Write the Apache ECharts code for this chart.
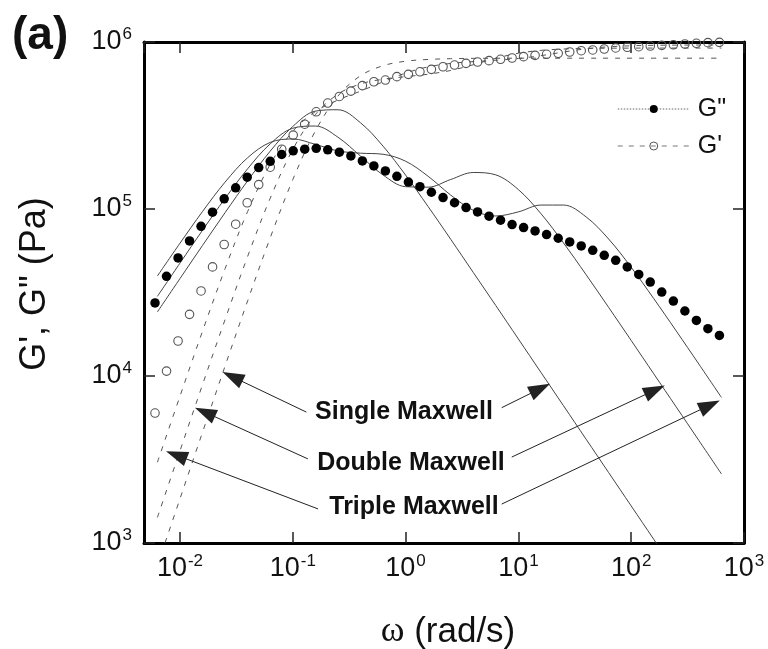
<!DOCTYPE html>
<html>
<head>
<meta charset="utf-8">
<script src="https://cdn.jsdelivr.net/npm/echarts@6/dist/echarts.min.js"></script>
<style>
  html, body { margin: 0; padding: 0; background: #fff; }
  #chart { width: 768px; height: 649px; }
</style>
</head>
<body>
<div id="chart"></div>
<script>
// Angular frequency of the measured points (rad/s)
const omega = [0.00601, 0.0076, 0.00962, 0.01216, 0.01538, 0.01945, 0.02466, 0.03119, 0.03945, 0.04989,
  0.0631, 0.0798, 0.1009, 0.1276, 0.1614, 0.2042, 0.2588, 0.3273, 0.414, 0.5236,
  0.6622, 0.8375, 1.059, 1.34, 1.694, 2.148, 2.716, 3.436, 4.345, 5.495,
  6.95, 8.79, 11.12, 14.06, 17.78, 22.54, 28.51, 36.06, 45.6, 57.7,
  72.9, 92.3, 116.7, 147.6, 186.6, 236.6, 299.2, 378.4, 478.6, 605.3];

// Measured loss modulus G'' (Pa)
const lossModulus = [27400, 39500, 50900, 64400, 78800, 95700, 115000, 134000, 155000, 177000,
  193000, 212000, 223000, 228000, 231000, 226000, 219000, 208000, 194000, 181000,
  169000, 157000, 145000, 136000, 126000, 117000, 109000, 102000, 96000, 90600,
  85700, 80700, 77400, 73900, 70300, 66800, 63500, 60100, 56600, 52800,
  49300, 45000, 40600, 36500, 31800, 28100, 24500, 21500, 19200, 17500];

// Measured storage modulus G' (Pa)
const storageModulus = [6000, 10700, 16200, 23400, 32300, 45000, 61300, 81100, 109000, 140000,
  178000, 228000, 277000, 322000, 382000, 431000, 472000, 508000, 548000, 578000,
  592000, 620000, 640000, 663000, 686000, 711000, 728000, 745000, 759000, 773000,
  788000, 802000, 817000, 832000, 844000, 855000, 871000, 887000, 896000, 908000,
  921000, 930000, 937000, 946000, 955000, 963000, 973000, 982000, 991000, 995000];

// Frequencies at which the Maxwell fits are tabulated (rad/s)
const omegaFit = [0.00631, 0.01, 0.01585, 0.02512, 0.03981, 0.0631, 0.1, 0.1585, 0.2512, 0.3981,
  0.631, 1, 1.585, 2.512, 3.981, 6.31, 10, 15.85, 25.12, 39.81,
  63.1, 100, 158.5, 251.2, 398.1, 631];

// Single-mode Maxwell fit
const singleLoss = [24200, 38300, 60500, 95100, 147500, 222000, 312000, 385500, 393000, 328600,
  238000, 159700, 103400, 65900, 41700, 26400, 16660, 10510, 6634, 4186,
  2641, 1667, 1052, 663, 418, 264];
const singleStorage = [734, 1839, 4606, 11470, 28200, 67200, 149800, 293000, 474000, 628000,
  721000, 767000, 786000, 794500, 798000, 799000, 800000, 800000, 800000, 800000,
  800000, 800000, 800000, 800000, 800000, 800000];

// Two-mode Maxwell fit
const doubleLoss = [30000, 47400, 74600, 115700, 174200, 245500, 304500, 313900, 269300, 207600,
  159900, 136000, 135100, 150200, 165400, 160100, 130700, 93800, 62600, 40450,
  25760, 16320, 10310, 6513, 4110, 2592];
const doubleStorage = [1423, 3562, 8877, 21800, 52000, 116000, 227100, 367300, 487200, 560800,
  598600, 620000, 641500, 675400, 730700, 798900, 856400, 891000, 907800, 915000,
  918000, 919000, 920000, 920000, 920000, 920000];

// Three-mode Maxwell fit
const tripleLoss = [39710, 62350, 96610, 144900, 202800, 250500, 262700, 243800, 222800, 215900,
  212700, 193300, 157000, 121200, 98210, 90800, 96110, 105600, 105600, 89730,
  66100, 44760, 29080, 18580, 11780, 7443];
const tripleStorage = [3043, 7565, 18550, 43940, 96630, 184970, 291850, 383000, 449000, 507700,
  577000, 651400, 709700, 744200, 763100, 777400, 796700, 828300, 870800, 910400,
  936200, 949200, 955000, 957900, 959000, 959500];

// Annotation arrows: tail and head positions as [omega, modulus]
const arrowTails = [[0.132, 6080], [0.136, 3190], [0.1675, 1600], [7.11, 6460], [8.73, 3270], [7.11, 1710]];
const arrowHeads = [[0.0292, 9890], [0.01665, 6070], [0.00928, 3360], [15.6, 8400], [162, 8230], [498, 6690]];

const FONT = '"Liberation Sans", Arial, Helvetica, sans-serif';

const pair = (xs, ys) => xs.map((x, i) => [x, ys[i]]);

function powerLabel(value) {
  const e = Math.round(Math.log10(value));
  return '{b|10}{s|' + e + '}';
}

const labelRich = {
  b: { fontSize: 27, fontFamily: FONT, color: '#111', lineHeight: 32 },
  s: { fontSize: 17, fontFamily: FONT, color: '#111', verticalAlign: 'top', padding: [0, 0, 0, 1] }
};

const boxLine = { show: true, onZero: false, lineStyle: { color: '#000', width: 3 } };
const innerTick = { show: true, inside: true, length: 11, lineStyle: { color: '#222', width: 1.5 } };

function xAxisDef(position, showLabel) {
  return {
    type: 'log', logBase: 10, min: 0.0048, max: 1000, position: position,
    axisLine: boxLine, axisTick: innerTick,
    minorTick: { show: false }, splitLine: { show: false },
    axisLabel: { show: showLabel, margin: 10, showMinLabel: false, showMaxLabel: true,
      formatter: powerLabel, rich: labelRich }
  };
}
function yAxisDef(position, showLabel) {
  return {
    type: 'log', logBase: 10, min: 1000, max: 1000000, position: position,
    axisLine: boxLine, axisTick: innerTick,
    minorTick: { show: false }, splitLine: { show: false },
    axisLabel: { show: showLabel, margin: 12, showMinLabel: true, showMaxLabel: true,
      formatter: powerLabel, rich: labelRich }
  };
}

function fitSeries(name, ys, dashed) {
  return {
    name: name, type: 'line', xAxisIndex: 0, yAxisIndex: 0,
    data: pair(omegaFit, ys), showSymbol: false, symbol: 'none',
    smooth: 0.35, clip: true, silent: true, z: 2,
    lineStyle: dashed
      ? { color: '#555', width: 1, type: [5, 7] }
      : { color: '#444', width: 1 }
  };
}

const arrowData = arrowTails.map((t, i) => [{ coord: t }, { coord: arrowHeads[i] }]);

const chart = echarts.init(document.getElementById('chart'), null, { renderer: 'canvas' });

chart.setOption({
  animation: false,
  backgroundColor: '#fff',
  grid: { left: 144, top: 42, right: 24, bottom: 106, containLabel: false, outerBoundsMode: 'none' },
  xAxis: [xAxisDef('bottom', true), xAxisDef('top', false)],
  yAxis: [yAxisDef('left', true), yAxisDef('right', false)],
  legend: {
    orient: 'vertical', left: 612, top: 91,
    itemWidth: 72, itemHeight: 10, itemGap: 11, selectedMode: false,
    textStyle: { fontSize: 25, fontFamily: FONT, color: '#111', lineHeight: 26, padding: [0, 0, 0, 3] },
    data: [
      { name: 'G"', itemStyle: { color: '#000' },
        lineStyle: { color: '#9a9a9a', width: 1.5, type: 'dotted', opacity: 1 } },
      { name: "G'", itemStyle: { color: 'rgba(255,255,255,0)', borderColor: '#555', borderWidth: 1 },
        lineStyle: { color: '#777', width: 1, type: [5, 6], opacity: 1 } }
    ]
  },
  series: [
    fitSeries('single-loss', singleLoss, false),
    fitSeries('double-loss', doubleLoss, false),
    fitSeries('triple-loss', tripleLoss, false),
    fitSeries('single-storage', singleStorage, true),
    fitSeries('double-storage', doubleStorage, true),
    fitSeries('triple-storage', tripleStorage, true),
    {
      name: 'arrows', type: 'line', data: [], silent: true, z: 3,
      markLine: {
        silent: true, animation: false,
        symbol: ['none', 'triangle'], symbolSize: [15, 22],
        label: { show: false },
        lineStyle: { color: '#222', width: 1, type: 'solid' },
        emphasis: { disabled: true },
        data: arrowData
      }
    },
    {
      name: "G'", type: 'line', data: pair(omega, storageModulus),
      symbol: 'circle', symbolSize: 8.5, showSymbol: true, z: 4, silent: true,
      itemStyle: { color: 'rgba(255,255,255,0)', borderColor: '#555', borderWidth: 1.1 },
      lineStyle: { opacity: 0 }
    },
    {
      name: 'G"', type: 'line', data: pair(omega, lossModulus),
      symbol: 'circle', symbolSize: 9.5, showSymbol: true, z: 5, silent: true,
      itemStyle: { color: '#000' },
      lineStyle: { opacity: 0 }
    }
  ],
  graphic: [
    { type: 'text', x: 12, y: 36, silent: true,
      style: { text: '(a)', font: 'bold 46px ' + FONT, fill: '#111', align: 'left', verticalAlign: 'middle' } },
    { type: 'text', x: 35, y: 284, rotation: Math.PI / 2, silent: true,
      style: { text: 'G\', G" (Pa)', font: '36px ' + FONT, fill: '#111', align: 'center', verticalAlign: 'middle' } },
    { type: 'text', x: 448, y: 632, silent: true,
      style: { text: '{w|ω} (rad/s)', font: '35px ' + FONT, fill: '#111', align: 'center', verticalAlign: 'middle',
        rich: { w: { fontFamily: '"Liberation Serif", "DejaVu Serif", serif', fontSize: 36, fill: '#111' } } } },
    { type: 'text', x: 404, y: 412, silent: true,
      style: { text: 'Single Maxwell', font: 'bold 25px ' + FONT, fill: '#111', align: 'center', verticalAlign: 'middle' } },
    { type: 'text', x: 411, y: 463, silent: true,
      style: { text: 'Double Maxwell', font: 'bold 25px ' + FONT, fill: '#111', align: 'center', verticalAlign: 'middle' } },
    { type: 'text', x: 414, y: 507, silent: true,
      style: { text: 'Triple Maxwell', font: 'bold 25px ' + FONT, fill: '#111', align: 'center', verticalAlign: 'middle' } }
  ]
});
</script>
</body>
</html>
